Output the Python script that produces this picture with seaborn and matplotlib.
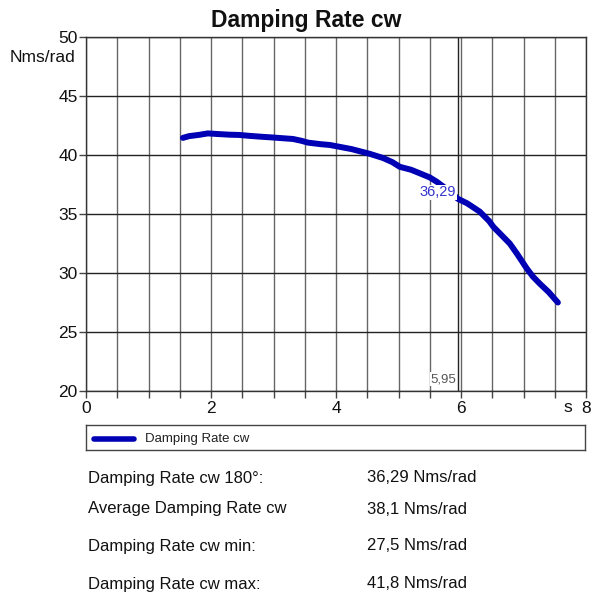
import numpy as np
import pandas as pd
import matplotlib
matplotlib.use("Agg")
import matplotlib.pyplot as plt
import seaborn as sns

# ---- data ----
time_s = [1.55, 1.65, 1.80, 1.95, 2.10, 2.30, 2.45, 2.62, 2.80, 3.00, 3.15, 3.31,
          3.45, 3.55, 3.75, 3.90, 4.10, 4.25, 4.43, 4.54, 4.75, 4.90, 5.02, 5.20,
          5.34, 5.50, 5.61, 5.80, 5.95, 6.10, 6.30, 6.45, 6.52, 6.65, 6.78, 6.90,
          7.05, 7.15, 7.26, 7.40, 7.55]
damping = [41.45, 41.60, 41.70, 41.83, 41.78, 41.72, 41.70, 41.62, 41.55, 41.48, 41.42, 41.36,
           41.20, 41.05, 40.92, 40.85, 40.65, 40.50, 40.25, 40.10, 39.75, 39.40, 39.00, 38.75,
           38.45, 38.10, 37.74, 37.00, 36.29, 35.90, 35.20, 34.40, 33.90, 33.20, 32.50, 31.60,
           30.40, 29.70, 29.10, 28.40, 27.50]
series_name = "Damping Rate cw"
marker_x = 5.95
marker_value = 36.29
marker_x_label = "5,95"
marker_value_label = "36,29"
y_ticks = [20, 25, 30, 35, 40, 45, 50]
x_major = [0, 2, 4, 6, 8]
x_labels = ["0", "2", "4", "6", "8"]
summary_labels = ["Damping Rate cw 180°:", "Average Damping Rate cw",
                  "Damping Rate cw min:", "Damping Rate cw max:"]
summary_values = ["36,29 Nms/rad", "38,1 Nms/rad", "27,5 Nms/rad", "41,8 Nms/rad"]

sns.set_style("white")
plt.rcParams['font.family'] = ['Liberation Sans', 'DejaVu Sans']

df = pd.DataFrame({"t": time_s, "v": damping, "series": series_name})

fig = plt.figure(figsize=(5.92, 5.97), dpi=100)
ax = fig.add_axes([86/592, 1-391/597, 500/592, 354/597])

sns.lineplot(data=df, x="t", y="v", ax=ax, color="#0000b4", linewidth=4.3,
             legend=False, zorder=3, solid_capstyle="round", solid_joinstyle="round")

ax.set_xlim(0, 8)
ax.set_ylim(20, 50)
ax.set_xlabel("")
ax.set_ylabel("")

# grid: vertical every 0.5, horizontal every 5
xt = np.arange(0, 8.01, 0.5)
ax.set_xticks(xt)
ax.set_xticklabels([x_labels[x_major.index(int(v))] if (v == int(v) and int(v) in x_major) else ""
                    for v in xt])
ax.set_yticks(y_ticks)
ax.set_yticklabels([str(v) for v in y_ticks])
ax.grid(True, axis="x", color="#666666", linewidth=1.0)
ax.grid(True, axis="y", color="#222222", linewidth=1.0)
ax.tick_params(axis="both", which="major", bottom=True, left=True, direction="out",
               length=5, width=1, color="#444444",
               labelsize=12.5, pad=1, labelcolor="#111111")
ax.tick_params(axis="x", pad=2)
for s in ax.spines.values():
    s.set_color("#333333")
    s.set_linewidth(1.0)

# marker line at 5.95
ax.axvline(marker_x, color="#222222", linewidth=1.0, zorder=2)
ax.text(marker_x - 0.03, 20.5, marker_x_label, ha="right", va="bottom", fontsize=9.5,
        color="#555555", zorder=4,
        bbox=dict(facecolor="white", edgecolor="none", pad=0.5))
ax.text(marker_x - 0.03, marker_value + 0.55, marker_value_label, ha="right", va="center",
        fontsize=10.5, color="#3333cc", zorder=4,
        bbox=dict(facecolor="white", edgecolor="none", pad=0.5))

# units
fig.text(75/592, 1-58/597, "Nms/rad", ha="right", va="center", fontsize=12.5, color="#111111")
fig.text(568/592, 1-408/597, "s", ha="center", va="center", fontsize=12.5, color="#111111")

# title
fig.text(306/592, 1-20/597, "Damping Rate cw", ha="center", va="center",
         fontsize=16.5, fontweight="bold", color="#111111")

# legend box
lax = fig.add_axes([86/592, 1-450/597, 499/592, 25/597])
lax.set_xlim(0, 499)
lax.set_ylim(0, 25)
lax.set_xticks([])
lax.set_yticks([])
for s in lax.spines.values():
    s.set_color("#444444")
    s.set_linewidth(1.0)
lax.plot([8, 48], [11, 11], color="#0000b4", linewidth=4, solid_capstyle="round")
lax.text(59, 11, series_name, ha="left", va="center", fontsize=9.5, color="#222222")

# summary texts
rows_y = [478, 509, 546, 584]
for lab, val, yy in zip(summary_labels, summary_values, rows_y):
    fig.text(88/592, 1-yy/597, lab, ha="left", va="center", fontsize=12, color="#111111")
    fig.text(367/592, 1-yy/597, val, ha="left", va="center", fontsize=12, color="#111111")

fig.savefig("out.png", dpi=100)
